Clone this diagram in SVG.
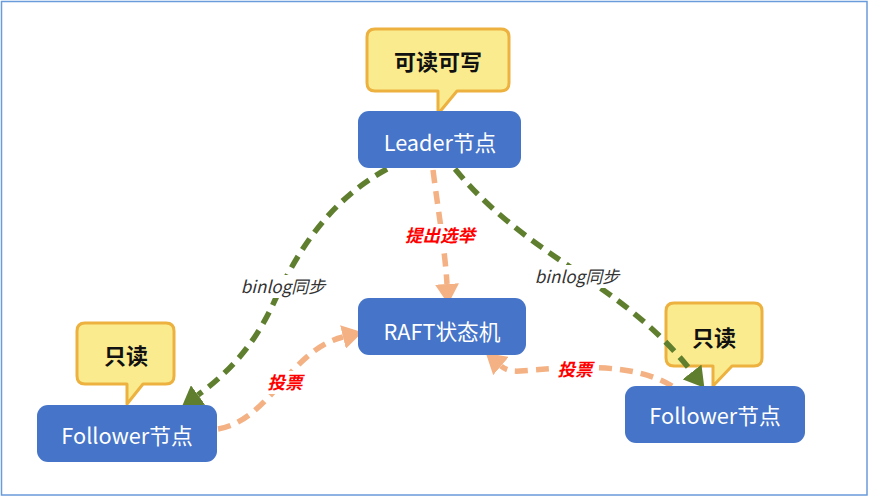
<svg xmlns="http://www.w3.org/2000/svg" width="869" height="497" viewBox="0 0 869 497">
<style>
.node{fill:#4574C8;}
.ntext{font-family:"Noto Sans CJK SC","Noto Sans",sans-serif;font-size:21.7px;fill:#ffffff;text-anchor:middle;}
.callout{fill:#FAEC8E;stroke:#EDB140;stroke-width:3;stroke-linejoin:round;}
.ctext{font-family:"Noto Sans CJK SC","Noto Sans",sans-serif;font-size:22px;font-weight:bold;fill:#111111;text-anchor:middle;}
.green{fill:none;stroke:#5F7F2F;stroke-width:5.5;stroke-dasharray:13 8;}
.orange{fill:none;stroke:#F4B183;stroke-width:5.5;stroke-dasharray:13 8;}
.lbg{fill:#ffffff;}
.blabel{font-family:"Noto Sans CJK SC","Noto Sans",sans-serif;font-size:17px;font-style:italic;fill:#333333;text-anchor:middle;}
.rlabel{font-family:"Noto Sans CJK SC","Noto Sans",sans-serif;font-size:17.5px;font-style:italic;font-weight:bold;fill:#FF0000;text-anchor:middle;}
</style>
<defs>
<marker id="ag" viewBox="0 0 20 24" refX="0" refY="12" markerWidth="20" markerHeight="24" markerUnits="userSpaceOnUse" orient="auto"><path d="M0,0 L20,12 L0,24 Z" fill="#5F7F2F"/></marker>
<marker id="ao" viewBox="0 0 20 24" refX="0" refY="12" markerWidth="20" markerHeight="24" markerUnits="userSpaceOnUse" orient="auto"><path d="M0,0 L20,12 L0,24 Z" fill="#F4B183"/></marker>
</defs>
<rect x="1.5" y="1.5" width="865.5" height="493.5" fill="#ffffff" stroke="#6A9BDA" stroke-width="1.5"/>

<g id="callout-leader">
<path class="callout" d="M375,29 H501 Q509,29 509,37 V83 Q509,91 501,91 H457 L438,114 V91 H375 Q367,91 367,83 V37 Q367,29 375,29 Z"/>
<text class="ctext" x="438" y="70">可读可写</text>
</g>
<g id="callout-follower-left">
<path class="callout" d="M85,323 H166 Q174,323 174,331 V376 Q174,384 166,384 H143 L127,404 V384 H85 Q77,384 77,376 V331 Q77,323 85,323 Z"/>
<text class="ctext" x="126" y="364">只读</text>
</g>
<g id="callout-follower-right">
<path class="callout" d="M674,303 H754 Q762,303 762,311 V358 Q762,366 754,366 H732 L713,386 V366 H674 Q666,366 666,358 V311 Q666,303 674,303 Z"/>
<text class="ctext" x="714" y="346">只读</text>
</g>

<g id="connectors">
<path class="green" d="M387,169 C330,200 298,250 275,300 C258,338 235,368 198,395" marker-end="url(#ag)"/>
<path class="green" d="M455,169 C530,260 620,280 692,372" marker-end="url(#ag)"/>
<path class="orange" d="M433,170 C438,210 445,250 447,284" marker-end="url(#ao)"/>
<path class="orange" d="M218,429 C270,420 290,350 343,337" marker-end="url(#ao)"/>
<path class="orange" d="M672,386 C630,360 560,368 520,371 Q508,372 501,366" marker-end="url(#ao)"/>
<rect class="lbg" x="237" y="275" width="93" height="23"/>
<text class="blabel" x="283" y="293">binlog同步</text>
<rect class="lbg" x="531" y="265" width="93" height="23"/>
<text class="blabel" x="577" y="283">binlog同步</text>
<rect class="lbg" x="402" y="224" width="76" height="23"/>
<text class="rlabel" x="440" y="242">提出选举</text>
<rect class="lbg" x="265" y="371" width="40" height="23"/>
<text class="rlabel" x="285" y="389">投票</text>
<rect class="lbg" x="555" y="358" width="41" height="23"/>
<text class="rlabel" x="575" y="376">投票</text>
</g>

<g id="node-leader">
<rect class="node" x="358" y="111" width="163" height="57" rx="11"/>
<text class="ntext" x="440" y="151">Leader节点</text>
</g>
<g id="node-raft">
<rect class="node" x="358" y="298" width="168" height="57" rx="11"/>
<text class="ntext" x="442" y="340">RAFT状态机</text>
</g>
<g id="node-follower-left">
<rect class="node" x="37" y="405" width="180" height="57" rx="11"/>
<text class="ntext" x="127" y="444">Follower节点</text>
</g>
<g id="node-follower-right">
<rect class="node" x="625" y="386" width="180" height="57" rx="11"/>
<text class="ntext" x="715" y="424">Follower节点</text>
</g>
</svg>
